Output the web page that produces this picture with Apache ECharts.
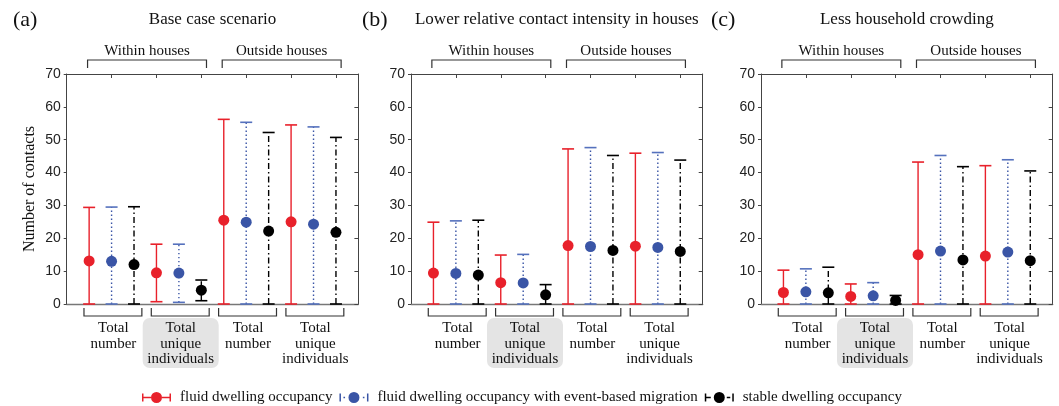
<!DOCTYPE html>
<html><head><meta charset="utf-8">
<script src="https://cdn.jsdelivr.net/npm/echarts/dist/echarts.min.js"></script>
<style>html,body{margin:0;padding:0;background:#fff}#c{width:1059px;height:406px}</style>
</head><body><div id="c"></div>
<script>
// ---------------- data ----------------
const scenarios = ['Base case scenario', 'Lower relative contact intensity in houses', 'Less household crowding'];
const panelLabels = ['(a)', '(b)', '(c)'];
const locations = ['Within houses', 'Outside houses'];
const categories = ['Total\nnumber', 'Total\nunique\nindividuals', 'Total\nnumber', 'Total\nunique\nindividuals'];
const seriesNames = ['fluid dwelling occupancy', 'fluid dwelling occupancy with event-based migration', 'stable dwelling occupancy'];
const yTicks = [0, 10, 20, 30, 40, 50, 60, 70];

// (a) Base case scenario
const baseFluidMean   = [13.1, 9.5, 25.5, 25.0];
const baseFluidLow    = [0, 0.7, 0, 0];
const baseFluidHigh   = [29.4, 18.2, 56.2, 54.5];
const baseMigMean     = [13.0, 9.4, 24.9, 24.3];
const baseMigLow      = [0, 0.5, 0, 0];
const baseMigHigh     = [29.5, 18.2, 55.3, 53.9];
const baseStableMean  = [12.0, 4.2, 22.2, 21.8];
const baseStableLow   = [0, 1.0, 0, 0];
const baseStableHigh  = [29.6, 7.3, 52.2, 50.7];

// (b) Lower relative contact intensity in houses
const lowerFluidMean  = [9.4, 6.5, 17.8, 17.6];
const lowerFluidLow   = [0, 0, 0, 0];
const lowerFluidHigh  = [24.9, 14.9, 47.2, 45.9];
const lowerMigMean    = [9.3, 6.4, 17.5, 17.2];
const lowerMigLow     = [0, 0, 0, 0];
const lowerMigHigh    = [25.3, 15.1, 47.6, 46.1];
const lowerStableMean = [8.8, 2.8, 16.3, 16.0];
const lowerStableLow  = [0, 0, 0, 0];
const lowerStableHigh = [25.5, 5.9, 45.2, 43.8];

// (c) Less household crowding
const lessFluidMean   = [3.5, 2.3, 15.0, 14.6];
const lessFluidLow    = [0, 0, 0, 0];
const lessFluidHigh   = [10.3, 6.1, 43.2, 42.1];
const lessMigMean     = [3.7, 2.5, 16.1, 15.8];
const lessMigLow      = [0, 0, 0, 0];
const lessMigHigh     = [10.7, 6.5, 45.2, 43.9];
const lessStableMean  = [3.4, 1.1, 13.4, 13.2];
const lessStableLow   = [0, 0, 0, 0];
const lessStableHigh  = [11.2, 2.6, 41.8, 40.5];

// ---------------- styling / layout ----------------
const panels = [
  { means: [baseFluidMean, baseMigMean, baseStableMean], lows: [baseFluidLow, baseMigLow, baseStableLow], highs: [baseFluidHigh, baseMigHigh, baseStableHigh] },
  { means: [lowerFluidMean, lowerMigMean, lowerStableMean], lows: [lowerFluidLow, lowerMigLow, lowerStableLow], highs: [lowerFluidHigh, lowerMigHigh, lowerStableHigh] },
  { means: [lessFluidMean, lessMigMean, lessStableMean], lows: [lessFluidLow, lessMigLow, lessStableLow], highs: [lessFluidHigh, lessMigHigh, lessStableHigh] }
];
const colors = ['#e8212b', '#3a55a6', '#000000'];
const capColors = ['#e8212b', '#5571bd', '#000000'];
const dashes = [null, [1.4, 2.6], [6, 3, 1.5, 3]];
const highlightIndex = 1;
const serif = '"Liberation Serif", "Times New Roman", serif';
const sans = '"Liberation Sans", Arial, sans-serif';
const gridLefts = [66.7, 411, 761];
const panelLabelX = [13, 362, 711];
const gridTop = 74, gridW = 291.7, gridH = 230;
const axisColor = '#444';

const xOf = (g, s) => g * 3 + s + 1;

const grids = [], xAxes = [], yAxes = [], series = [], graphics = [];

panels.forEach((p, i) => {
  grids.push({ left: gridLefts[i], top: gridTop, width: gridW, height: gridH, containLabel: false });
  // bottom x
  xAxes.push({ gridIndex: i, type: 'value', min: 0, max: 13, interval: 2, position: 'bottom',
    axisLine: { show: true, onZero: false, lineStyle: { color: '#777', width: 1.3 } },
    axisTick: { show: false }, axisLabel: { show: false }, splitLine: { show: false } });
  // top x
  xAxes.push({ gridIndex: i, type: 'value', min: 0, max: 13, interval: 2, position: 'top',
    axisLine: { show: true, onZero: false, lineStyle: { color: axisColor, width: 1 } },
    axisTick: { show: true, inside: true, length: 4, lineStyle: { color: axisColor } },
    axisLabel: { show: false }, splitLine: { show: false } });
  // left y
  yAxes.push({ gridIndex: i, type: 'value', min: yTicks[0], max: yTicks[yTicks.length - 1], interval: 10, position: 'left',
    name: i === 0 ? 'Number of contacts' : '', nameLocation: 'middle', nameGap: 29,
    nameTextStyle: { fontFamily: serif, fontSize: 16, color: '#111' },
    axisLine: { show: true, onZero: false, lineStyle: { color: axisColor, width: 1 } },
    axisTick: { show: true, inside: false, length: 3, lineStyle: { color: axisColor } },
    axisLabel: { show: true, margin: 6, fontFamily: sans, fontSize: 14, color: '#222' },
    splitLine: { show: false } });
  // right y
  yAxes.push({ gridIndex: i, type: 'value', min: yTicks[0], max: yTicks[yTicks.length - 1], interval: 10, position: 'right',
    axisLine: { show: true, onZero: false, lineStyle: { color: axisColor, width: 1 } },
    axisTick: { show: true, inside: true, length: 4, lineStyle: { color: axisColor } },
    axisLabel: { show: false }, splitLine: { show: false } });

  const xi = i * 2, yi = i * 2;

  for (let s = 0; s < 3; s++) {
    const barData = p.means[s].map((m, g) => [xOf(g, s), p.lows[s][g], p.highs[s][g]]);
    const ptData = p.means[s].map((m, g) => [xOf(g, s), m]);
    const col = colors[s], capCol = capColors[s], dash = dashes[s];
    series.push({
      type: 'custom', name: seriesNames[s], xAxisIndex: xi, yAxisIndex: yi, clip: false, z: 3,
      itemStyle: { color: col },
      encode: { x: 0, y: [1, 2] },
      data: barData,
      renderItem: function (params, api) {
        const x = api.value(0), lo = api.value(1), hi = api.value(2);
        const a = api.coord([x, lo]), b = api.coord([x, hi]);
        const hw = 6;
        return { type: 'group', children: [
          { type: 'line', shape: { x1: a[0], y1: a[1], x2: b[0], y2: b[1] }, style: { stroke: col, lineWidth: 1.4, lineDash: dash } },
          { type: 'line', shape: { x1: b[0] - hw, y1: b[1], x2: b[0] + hw, y2: b[1] }, style: { stroke: capCol, lineWidth: 1.6 } },
          { type: 'line', shape: { x1: a[0] - hw, y1: a[1], x2: a[0] + hw, y2: a[1] }, style: { stroke: capCol, lineWidth: 1.6 } }
        ] };
      }
    });
    series.push({
      type: 'scatter', name: seriesNames[s], xAxisIndex: xi, yAxisIndex: yi, z: 4,
      symbol: 'circle', symbolSize: 11, itemStyle: { color: col, opacity: 1 },
      data: ptData, silent: true
    });
  }

  // bottom category brackets & labels
  series.push({
    type: 'custom', xAxisIndex: xi, yAxisIndex: yi, clip: false, silent: true, z: 2,
    encode: { x: 0, y: 1 },
    data: categories.map((c, g) => [g, 0]),
    renderItem: function (params, api) {
      const g = api.value(0);
      const x1 = api.coord([g * 3 + 0.77, 0])[0];
      const x2 = api.coord([g * 3 + 3.35, 0])[0];
      const xc = api.coord([g * 3 + 2.08, 0])[0];
      const yb = api.coord([0, 0])[1];
      const ch = [];
      if (g === highlightIndex) ch.push({ type: 'rect', shape: { x: xc - 38, y: yb + 14, width: 76, height: 50, r: 7 }, style: { fill: '#e4e4e4' } });
      ch.push({ type: 'polyline', shape: { points: [[x1, yb + 4], [x1, yb + 12], [x2, yb + 12], [x2, yb + 4]] }, style: { stroke: '#333', lineWidth: 1.2, fill: null } });
      ch.push({ type: 'text', x: xc, y: yb + 16.5, style: { text: categories[g], fill: '#111', font: '15px ' + serif, align: 'center', verticalAlign: 'top', lineHeight: 15.5 } });
      return { type: 'group', children: ch };
    }
  });
  // top location brackets & labels
  series.push({
    type: 'custom', xAxisIndex: xi, yAxisIndex: yi, clip: false, silent: true, z: 2,
    encode: { x: 0, y: 1 },
    data: locations.map((l, k) => [k, 0]),
    renderItem: function (params, api) {
      const k = api.value(0);
      const x1 = api.coord([k * 6 + 0.93, 0])[0];
      const x2 = api.coord([k * 6 + 6.23, 0])[0];
      const xc = (x1 + x2) / 2;
      const yt = api.coord([0, 70])[1];
      return { type: 'group', children: [
        { type: 'polyline', shape: { points: [[x1, yt - 6], [x1, yt - 14], [x2, yt - 14], [x2, yt - 6]] }, style: { stroke: '#333', lineWidth: 1.2, fill: null } },
        { type: 'text', x: xc, y: yt - 23, style: { text: locations[k], fill: '#111', font: '15px ' + serif, align: 'center', verticalAlign: 'middle' } }
      ] };
    }
  });

  graphics.push({ type: 'text', x: gridLefts[i] + gridW / 2, y: 20, style: { text: scenarios[i], fill: '#111', font: '17px ' + serif, align: 'center', verticalAlign: 'middle' } });
  graphics.push({ type: 'text', x: panelLabelX[i], y: 20, style: { text: panelLabels[i], fill: '#111', font: '22px ' + serif, align: 'left', verticalAlign: 'middle' } });
});

const circ = 'M9,5.5a5.5,5.5 0 1,1 11,0a5.5,5.5 0 1,1 -11,0z';
const caps = 'M0,1.5h1.5v8H0z M27.5,1.5H29v8h-1.5z ';
const legendIcons = [
  'path://' + caps + 'M0,4.7h9v1.6H0z M20,4.7h9v1.6h-9z ' + circ,
  'path://' + caps + 'M4,4.7h1.6v1.6H4z M23.4,4.7h1.6v1.6h-1.6z ' + circ,
  'path://' + caps + 'M0,4.7h6v1.6H0z M22,4.7h3.5v1.6H22z ' + circ
];

const option = {
  animation: false,
  backgroundColor: '#ffffff',
  grid: grids, xAxis: xAxes, yAxis: yAxes, series: series,
  graphic: graphics,
  legend: {
    left: 137, top: 385, itemWidth: 29, itemHeight: 11, itemGap: 7, selectedMode: false,
    textStyle: { fontFamily: serif, fontSize: 15, color: '#111', padding: [0, 0, 0, 4] },
    data: seriesNames.map((n, s) => ({ name: n, icon: legendIcons[s], itemStyle: { color: colors[s], borderWidth: 0 } }))
  }
};
const chart = echarts.init(document.getElementById('c'));
chart.setOption(option);
</script>
</body></html>
